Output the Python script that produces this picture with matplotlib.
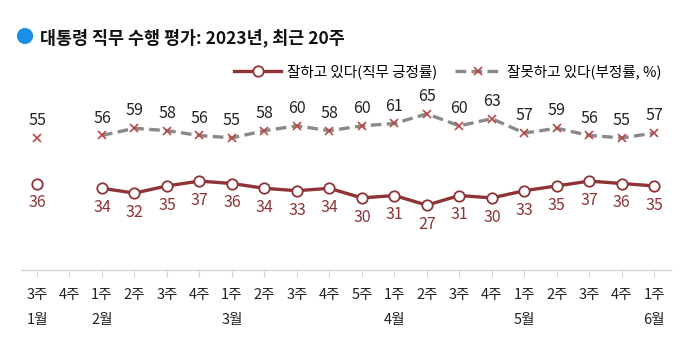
import matplotlib
matplotlib.use("Agg")
import matplotlib.pyplot as plt
import numpy as np

plt.rcParams['font.family'] = ['Noto Sans CJK KR', 'DejaVu Sans']

weeks = ["3주", "4주", "1주", "2주", "3주", "4주", "1주", "2주", "3주", "4주", "5주",
         "1주", "2주", "3주", "4주", "1주", "2주", "3주", "4주", "1주"]
months = ["1월", "", "2월", "", "", "", "3월", "", "", "", "", "4월", "", "", "", "5월", "", "", "", "6월"]
approve = [36, None, 34, 32, 35, 37, 36, 34, 33, 34, 30, 31, 27, 31, 30, 33, 35, 37, 36, 35]
disapprove = [55, None, 56, 59, 58, 56, 55, 58, 60, 58, 60, 61, 65, 60, 63, 57, 59, 56, 55, 57]

RED = "#8e3436"
GRAY = "#8a8a8a"
XRED = "#b84a4a"

fig = plt.figure(figsize=(6.92, 3.59), dpi=100)
ax = fig.add_axes([0.030, 0.248, 0.939, 0.669])

x = np.arange(len(weeks))
a = np.array([np.nan if v is None else v for v in approve], dtype=float)
d = np.array([np.nan if v is None else v for v in disapprove], dtype=float)

ax.plot(x, d, color=GRAY, lw=2.4, ls=(0, (3.2, 1.6)), marker='x', ms=6,
        mec=XRED, mew=1.2, zorder=3, label="잘못하고 있다(부정률, %)")
ax.plot(x, a, color=RED, lw=2.4, marker='o', ms=7.5, mfc='white', mec=RED,
        mew=1.3, zorder=4, label="잘하고 있다(직무 긍정률)")

for xi, v in zip(x, a):
    if not np.isnan(v):
        ax.annotate(f"{int(v)}", (xi, v), xytext=(0, -14), textcoords='offset points',
                    ha='center', va='center', fontsize=11.5, color=RED)
for xi, v in zip(x, d):
    if not np.isnan(v):
        ax.annotate(f"{int(v)}", (xi, v), xytext=(0, 12.5), textcoords='offset points',
                    ha='center', va='center', fontsize=11.5, color='#222222')

ax.set_xlim(-0.5, len(weeks) - 0.5)
ax.set_ylim(0, 100)
ax.set_yticks([])
for s in ['top', 'right', 'left']:
    ax.spines[s].set_visible(False)
ax.spines['bottom'].set_color('#d4d4d4')
ax.spines['bottom'].set_linewidth(1.0)
ax.set_xticks(x)
ax.set_xticklabels(weeks, fontsize=10.5, color='#222222')
ax.tick_params(axis='x', length=5, color='#d4d4d4', pad=8)

for xi, m in zip(x, months):
    if m:
        ax.text(xi, -0.21, m, transform=ax.get_xaxis_transform(), ha='center', va='center',
                fontsize=10.5, color='#222222')

h, l = ax.get_legend_handles_labels()
fig.legend(h[::-1], l[::-1], loc='center right', bbox_to_anchor=(0.975, 0.80),
           ncol=2, frameon=False, fontsize=10.5, handlelength=3.2, columnspacing=1.2,
           handletextpad=0.4)

fig.text(0.022, 0.895, "●", color='#1a8fe8', fontsize=13, va='center', ha='left')
fig.text(0.058, 0.895, "대통령 직무 수행 평가: 2023년, 최근 20주", fontsize=12.5,
         fontweight='bold', va='center', ha='left', color='#111111')

fig.savefig("out.png", dpi=100)
